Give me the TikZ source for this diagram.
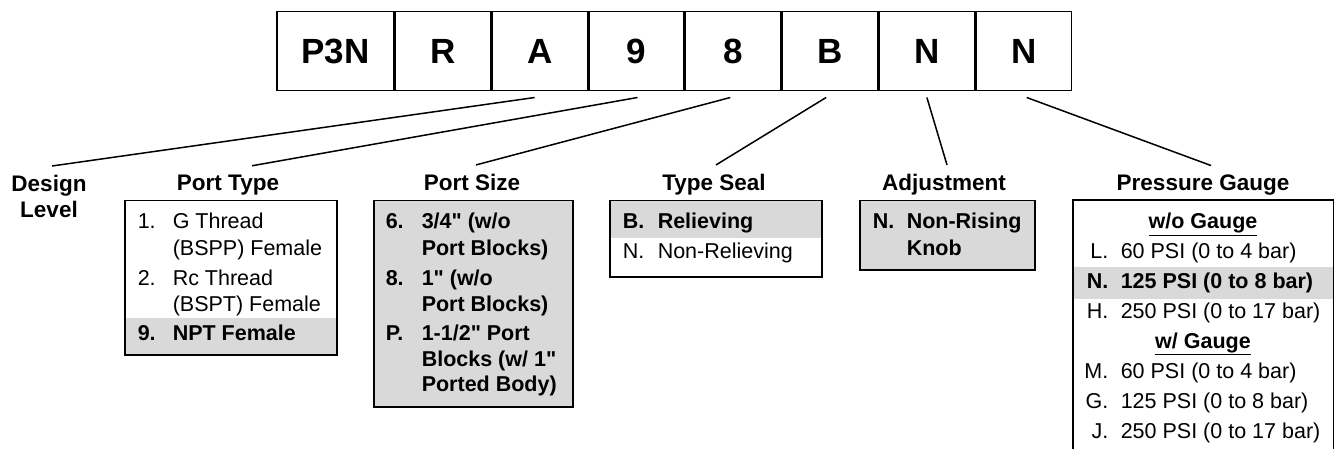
\documentclass[tikz,border=0pt]{standalone}
\usepackage{fontspec}
\setmainfont{Liberation Sans}[Ligatures=TeXOff]
\usetikzlibrary{positioning}
\definecolor{band}{RGB}{217,217,217}
\newcommand{\bodyfont}{\fontsize{21.5}{26}\selectfont}
\newcommand{\headfont}{\fontsize{22.5}{26}\selectfont\bfseries}

\begin{document}
\begin{tikzpicture}[x=1pt,y=-1pt,line width=1.5pt,
    every node/.style={inner sep=0pt,font=\bodyfont},
    cell/.style={draw,minimum height=79pt,font=\fontsize{35}{40}\selectfont\bfseries},
    hd/.style={anchor=base,font=\headfont},
    lbl/.style={anchor=base west},
    key/.style={anchor=base east}]
  \useasboundingbox (0,0) rectangle (1335,449);

  % order code
  \node[cell,minimum width=117pt,anchor=north west] (c1) at (276,11) {P3N};
  \foreach \t [count=\i from 2] in {R,A,9,8,B,N,N}
  {
    \pgfmathtruncatemacro{\j}{\i-1}
    \node[cell,minimum width=95.3pt,right=0pt of c\j] (c\i) {\t};
  }

  % headings
  \node[hd,align=center,anchor=north] (hDes) at (49,174) {Design\\Level};
  \node[hd] (hPT) at (228,190) {Port Type};
  \node[hd] (hPS) at (472,190) {Port Size};
  \node[hd] (hTS) at (714,190) {Type Seal};
  \node[hd] (hAd) at (944,190) {Adjustment};
  \node[hd] (hPG) at (1203,190) {Pressure Gauge};

  \foreach \s/\e/\sx/\ex in {c3/hDes/-5/3,c4/hPT/1/24,c5/hPS/-3/4,c6/hTS/-4/2,c7/hAd/0/3,c8/hPG/3/8}
    \draw ([shift={(\sx,6)}]\s.south) -- ([shift={(\ex,-8)}]\e.north);

  % port type
  \fill[band] (124,318) rectangle (336,354);
  \node[draw,anchor=north west,minimum width=212pt,minimum height=154pt] (bPT) at (124,200) {};
  \foreach \x/\y/\t [count=\i] in {137/229/1.,172/229/G Thread,172/255/(BSPP) Female,
    137/285/2.,172/285/Rc Thread,172/311/(BSPT) Female}
    \node[lbl] (pt\i) at (\x,\y) {\t};
  \node[lbl,font=\bodyfont\bfseries] (pt7) at (137,340) {9.};
  \node[lbl,font=\bodyfont\bfseries] (pt8) at (172,340) {NPT Female};

  % port size
  \node[draw,fill=band,anchor=north west,minimum width=199pt,minimum height=206pt] (bPS) at (373,200) {};
  \foreach \x/\y/\t [count=\i] in {385/229/6.,421/229/{3/4" (w/o},421/255/Port Blocks),
    385/285/8.,421/285/{1" (w/o},421/311/Port Blocks),
    385/340/P.,421/340/{1-1/2" Port},421/366/{Blocks (w/ 1"},421/391/Ported Body)}
    \node[lbl,font=\bodyfont\bfseries] (ps\i) at (\x,\y) {\t};

  % type seal
  \fill[band] (609,200) rectangle (821,238);
  \node[draw,anchor=north west,minimum width=212pt,minimum height=76pt] (bTS) at (609,200) {};
  \node[lbl,font=\bodyfont\bfseries] (ts1) at (622,229) {B.};
  \node[lbl,font=\bodyfont\bfseries] (ts2) at (657,229) {Relieving};
  \node[lbl] (ts3) at (622,258) {N.};
  \node[lbl] (ts4) at (657,258) {Non-Relieving};

  % adjustment
  \node[draw,fill=band,anchor=north west,minimum width=175pt,minimum height=69pt] (bAd) at (859,200) {};
  \node[lbl,font=\bodyfont\bfseries] (ad1) at (872,229) {N.};
  \node[lbl,font=\bodyfont\bfseries] (ad2) at (906,229) {Non-Rising};
  \node[lbl,font=\bodyfont\bfseries] (ad3) at (906,255) {Knob};

  % pressure gauge
  \fill[band] (1073,267) rectangle (1334,299);
  \draw (1073,449) -- (1073,200) -- (1333.5,200) -- (1333.5,449);
  \node[anchor=base,font=\bodyfont\bfseries] (pg0) at (1203,229) {\underline{w/o Gauge}};
  \node[anchor=base,font=\bodyfont\bfseries] (pg4) at (1203,348) {\underline{w/ Gauge}};
  \foreach \k/\y/\t in {L/258/60 PSI (0 to 4 bar),H/318/250 PSI (0 to 17 bar),
    M/378/60 PSI (0 to 4 bar),G/408/125 PSI (0 to 8 bar),J/438/250 PSI (0 to 17 bar)}
  {
    \node[key] (k\k) at (1109,\y) {\k.};
    \node[lbl] (t\k) at (1120,\y) {\t};
  }
  \node[key,font=\bodyfont\bfseries] (kN) at (1109,288) {N.};
  \node[lbl,font=\bodyfont\bfseries] (tN) at (1120,288) {125 PSI (0 to 8 bar)};
\end{tikzpicture}
\end{document}
